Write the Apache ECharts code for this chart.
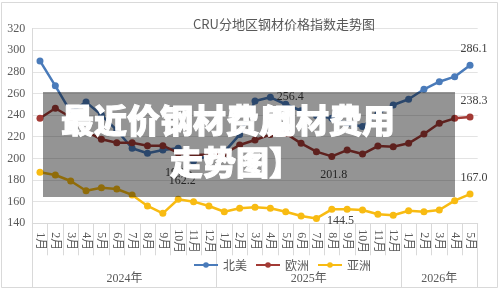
<!DOCTYPE html>
<html>
<head>
<meta charset="utf-8">
<script src="https://cdn.jsdelivr.net/npm/echarts@6/dist/echarts.min.js"></script>
<style>
  html, body { margin: 0; padding: 0; background: #fff; }
  #main { width: 500px; height: 291px; }
</style>
</head>
<body>
<div id="main"></div>
<script>
  // 数据
  var years = ['2024年', '2025年', '2026年'];
  var monthsPerYear = [12, 12, 5];
  var months = ['1月','2月','3月','4月','5月','6月','7月','8月','9月','10月','11月','12月',
                '1月','2月','3月','4月','5月','6月','7月','8月','9月','10月','11月','12月',
                '1月','2月','3月','4月','5月'];
  var northAmerica = [290, 267, 243, 252, 240, 226, 209.3, 204.7, 207.7, 209.3, 197.6, 203,
                      206, 222, 253, 256.4, 250, 244, 239.5, 237, 232, 229.5, 241, 249.3,
                      254.6, 263.8, 270.8, 275.5, 286.1];
  var europe = [237, 246.3, 238, 225, 217.6, 214.5, 214.5, 211.7, 211.7, 205, 203, 203.5,
                204.5, 212.3, 217, 222, 223, 213.9, 206.2, 201.8, 207.7, 204, 211.4, 210.8,
                213.9, 222.5, 232.4, 237, 238.3];
  var asia = [187.1, 184.6, 179.1, 170.1, 172.9, 171.7, 166.2, 156.0, 149.2, 162.2, 160, 156,
              150.7, 153.9, 154.8, 153.9, 150.7, 146.7, 144.5, 152.9, 152.9, 152.3, 148.3, 147.4,
              151.6, 150.7, 152.3, 160.9, 167.0];
  var yTicks = [140, 160, 180, 200, 220, 240, 260, 280, 300, 320];

  // 年份分组的边界和中点
  var bounds = [0], centers = [];
  for (var i = 0; i < monthsPerYear.length; i++) {
    centers.push(bounds[i] + monthsPerYear[i] / 2);
    bounds.push(bounds[i] + monthsPerYear[i]);
  }

  var serifFont = '"Liberation Serif", "Noto Sans CJK SC", serif';

  function withLabels(values, labels) {
    return values.map(function (v, idx) {
      if (labels[idx]) {
        return { value: v, label: { show: true, position: labels[idx][0], offset: labels[idx][1] || [0, 0] } };
      }
      return v;
    });
  }

  var labelStyle = {
    show: false, fontSize: 12, color: '#404040', fontFamily: serifFont,
    formatter: function (p) { return Number(p.value).toFixed(1); }
  };

  var myChart = echarts.init(document.getElementById('main'));
  var option = {
    backgroundColor: '#fff',
    animation: false,
    title: {
      text: 'CRU分地区钢材价格指数走势图',
      left: 279, top: 13, textAlign: 'center',
      textStyle: { fontSize: 13, fontWeight: 'normal', color: '#595959', fontFamily: '"Noto Sans CJK SC", sans-serif' }
    },
    legend: {
      data: ['北美', '欧洲', '亚洲'],
      left: 188, top: 254,
      itemWidth: 24, itemHeight: 7, itemGap: 8,
      textStyle: { fontSize: 12, color: '#595959', fontFamily: '"Noto Sans CJK SC", sans-serif' }
    },
    grid: { left: 32.3, right: 22.3, top: 28.5, bottom: 67.7 },
    xAxis: [{
      type: 'category',
      data: months,
      boundaryGap: true,
      axisLine: { show: true, lineStyle: { color: '#d9d9d9' } },
      axisTick: { show: true, interval: 0, length: 32, lineStyle: { color: '#d9d9d9' } },
      axisLabel: {
        interval: 0, rotate: -90, margin: 18, align: 'center', verticalAlign: 'middle',
        fontSize: 12, color: '#595959', fontFamily: serifFont
      }
    }, {
      type: 'value',
      position: 'bottom',
      min: 0, max: bounds[bounds.length - 1],
      axisLine: { show: false },
      splitLine: { show: false },
      axisTick: { show: true, customValues: bounds, length: 64, lineStyle: { color: '#d9d9d9' } },
      axisLabel: {
        customValues: centers, margin: 50,
        fontSize: 12, color: '#595959', fontFamily: serifFont,
        formatter: function (v) {
          for (var k = 0; k < centers.length; k++) {
            if (Math.abs(centers[k] - v) < 0.01) return years[k];
          }
          return '';
        }
      }
    }],
    yAxis: {
      type: 'value',
      min: yTicks[0], max: yTicks[yTicks.length - 1], interval: 20,
      axisLine: { show: true, lineStyle: { color: '#d9d9d9' } },
      axisTick: { show: false },
      splitLine: { lineStyle: { color: '#e3e3e3' } },
      axisLabel: { margin: 7, fontSize: 12, color: '#595959', fontFamily: serifFont }
    },
    series: [{
      name: '北美', type: 'line',
      data: withLabels(northAmerica, { 15: ['right', [-2, 0]], 10: ['bottom', [-15, -3]], 28: ['top', [4, -2]] }),
      color: '#4a7bba',
      symbol: 'circle', symbolSize: 7,
      lineStyle: { width: 2.5 },
      label: labelStyle
    }, {
      name: '欧洲', type: 'line',
      data: withLabels(europe, { 19: ['bottom', [2, 4]], 28: ['top', [4, -2]] }),
      color: '#a33a35',
      symbol: 'circle', symbolSize: 7,
      lineStyle: { width: 2.5 },
      label: labelStyle
    }, {
      name: '亚洲', type: 'line',
      data: withLabels(asia, { 9: ['top', [4, -4]], 18: ['right', [2, 2]], 28: ['top', [4, -2]] }),
      color: '#f8bb12',
      symbol: 'circle', symbolSize: 7,
      lineStyle: { width: 2.5 },
      label: labelStyle
    }],
    graphic: [{
      type: 'rect', z: 0, silent: true,
      shape: { x: 1.5, y: 2.5, width: 496, height: 285 },
      style: { fill: 'none', stroke: '#d9d9d9', lineWidth: 1 }
    }, {
      type: 'rect', z: 100, silent: true,
      shape: { x: 43, y: 92, width: 412, height: 105 },
      style: { fill: 'rgba(0,0,0,0.42)' }
    }, {
      type: 'text', z: 101, silent: true,
      x: 61, y: 120,
      style: { text: '最近价钢材费用', fill: '#fff', fontSize: 33, fontWeight: 900,
               fontFamily: '"Noto Sans CJK SC", sans-serif', verticalAlign: 'middle',
               stroke: '#fff', lineWidth: 1 }
    }, {
      type: 'text', z: 101, silent: true,
      x: 263, y: 120,
      style: { text: '钢材费用', fill: '#fff', fontSize: 33, fontWeight: 900,
               fontFamily: '"Noto Sans CJK SC", sans-serif', verticalAlign: 'middle',
               stroke: '#fff', lineWidth: 1 }
    }, {
      type: 'text', z: 101, silent: true,
      x: 170, y: 162,
      style: { text: '走势图】', fill: '#fff', fontSize: 33, fontWeight: 900,
               fontFamily: '"Noto Sans CJK SC", sans-serif', verticalAlign: 'middle',
               stroke: '#fff', lineWidth: 1 }
    }]
  };
  myChart.setOption(option);
</script>
</body>
</html>
